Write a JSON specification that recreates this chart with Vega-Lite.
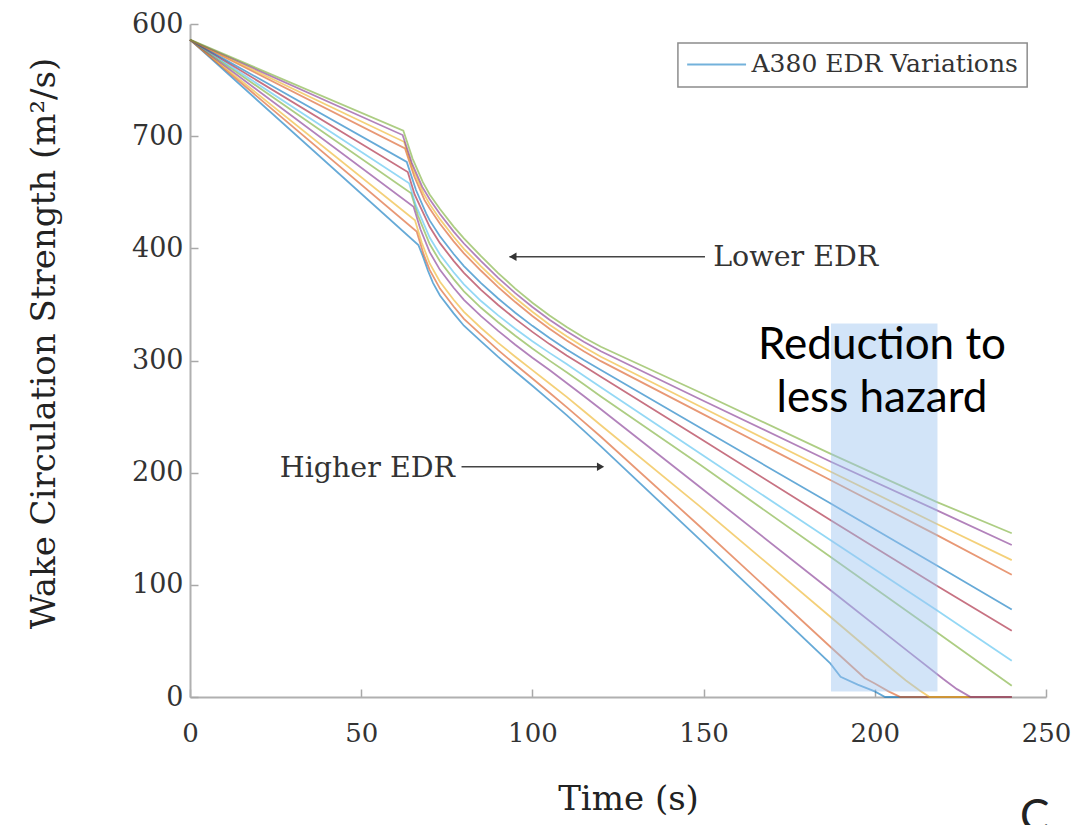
{
 "$schema": "https://vega.github.io/schema/vega-lite/v6.json",
 "width": 856, "height": 673,
 "autosize": {"type": "none"},
 "padding": {"left": 190, "top": 24, "right": 25, "bottom": 128},
 "background": "white",
 "config": {"view": {"stroke": null}},
 "datasets": {
  "curves": [
   {"r":1,"t":0,"v":586},{"r":1,"t":66.7,"v":403},{"r":1,"t":68,"v":393},{"r":1,"t":69.5,"v":380},{"r":1,"t":71,"v":369},{"r":1,"t":73,"v":358},{"r":1,"t":77,"v":342},{"r":1,"t":80,"v":331},{"r":1,"t":85,"v":317},{"r":1,"t":90,"v":303.2},{"r":1,"t":95,"v":290.2},{"r":1,"t":100,"v":277.5},{"r":1,"t":105,"v":264.5},{"r":1,"t":110,"v":251.3},{"r":1,"t":115,"v":237.5},{"r":1,"t":120,"v":223.5},{"r":1,"t":149,"v":140},{"r":1,"t":187,"v":30},{"r":1,"t":190,"v":18},{"r":1,"t":195,"v":11},{"r":1,"t":200,"v":5},{"r":1,"t":203,"v":0},{"r":1,"t":240,"v":0},
   {"r":2,"t":0,"v":586},{"r":2,"t":66.2,"v":415},{"r":2,"t":68.2,"v":395},{"r":2,"t":70,"v":380.8},{"r":2,"t":73,"v":364.1},{"r":2,"t":77,"v":348.1},{"r":2,"t":80,"v":337.1},{"r":2,"t":85,"v":323},{"r":2,"t":90,"v":309.3},{"r":2,"t":95,"v":296.4},{"r":2,"t":100,"v":283.9},{"r":2,"t":105,"v":271.2},{"r":2,"t":110,"v":258.4},{"r":2,"t":115,"v":245.3},{"r":2,"t":120,"v":232},{"r":2,"t":149,"v":151.8},{"r":2,"t":187,"v":44.8},{"r":2,"t":197,"v":17},{"r":2,"t":200,"v":12},{"r":2,"t":204,"v":5},{"r":2,"t":207.5,"v":0},{"r":2,"t":240,"v":0},
   {"r":3,"t":0,"v":586},{"r":3,"t":65.7,"v":425},{"r":3,"t":67.7,"v":405},{"r":3,"t":70,"v":386.5},{"r":3,"t":73,"v":370.2},{"r":3,"t":77,"v":354.2},{"r":3,"t":80,"v":343.3},{"r":3,"t":85,"v":329},{"r":3,"t":90,"v":315.7},{"r":3,"t":95,"v":303.4},{"r":3,"t":100,"v":291.4},{"r":3,"t":105,"v":279.5},{"r":3,"t":110,"v":267.6},{"r":3,"t":115,"v":255},{"r":3,"t":120,"v":242.3},{"r":3,"t":149,"v":169.7},{"r":3,"t":187,"v":71.6},{"r":3,"t":205,"v":25},{"r":3,"t":209,"v":15},{"r":3,"t":213,"v":6},{"r":3,"t":216,"v":0},{"r":3,"t":240,"v":0},
   {"r":4,"t":0,"v":586},{"r":4,"t":65.3,"v":437},{"r":4,"t":67.3,"v":417},{"r":4,"t":70,"v":396.6},{"r":4,"t":73,"v":380.8},{"r":4,"t":77,"v":364.9},{"r":4,"t":80,"v":354},{"r":4,"t":85,"v":339.5},{"r":4,"t":90,"v":326.4},{"r":4,"t":95,"v":314.1},{"r":4,"t":100,"v":302.5},{"r":4,"t":105,"v":291.5},{"r":4,"t":110,"v":280},{"r":4,"t":115,"v":268.3},{"r":4,"t":120,"v":256.5},{"r":4,"t":149,"v":187},{"r":4,"t":187,"v":95.4},{"r":4,"t":210,"v":40},{"r":4,"t":220,"v":16},{"r":4,"t":224,"v":7},{"r":4,"t":228,"v":0},{"r":4,"t":240,"v":0},
   {"r":5,"t":0,"v":586},{"r":5,"t":64.6,"v":449},{"r":5,"t":66.6,"v":429},{"r":5,"t":70,"v":403.8},{"r":5,"t":73,"v":388.5},{"r":5,"t":77,"v":372.6},{"r":5,"t":80,"v":361.7},{"r":5,"t":85,"v":347},{"r":5,"t":90,"v":334.1},{"r":5,"t":95,"v":322.1},{"r":5,"t":100,"v":310.7},{"r":5,"t":105,"v":299.9},{"r":5,"t":110,"v":289.5},{"r":5,"t":115,"v":278.8},{"r":5,"t":120,"v":268},{"r":5,"t":149,"v":207},{"r":5,"t":187,"v":125},{"r":5,"t":218,"v":58},{"r":5,"t":240,"v":10},
   {"r":6,"t":0,"v":586},{"r":6,"t":64,"v":458},{"r":6,"t":66,"v":438},{"r":6,"t":70,"v":409.6},{"r":6,"t":73,"v":394.5},{"r":6,"t":77,"v":378.7},{"r":6,"t":80,"v":367.9},{"r":6,"t":85,"v":353},{"r":6,"t":90,"v":340.2},{"r":6,"t":95,"v":328.3},{"r":6,"t":100,"v":317.2},{"r":6,"t":105,"v":306.8},{"r":6,"t":110,"v":296.8},{"r":6,"t":115,"v":286.5},{"r":6,"t":120,"v":276.2},{"r":6,"t":149,"v":217},{"r":6,"t":187,"v":140},{"r":6,"t":218,"v":77.5},{"r":6,"t":240,"v":32.4},
   {"r":7,"t":0,"v":586},{"r":7,"t":63.6,"v":468},{"r":7,"t":65.6,"v":448},{"r":7,"t":70,"v":419.2},{"r":7,"t":73,"v":404.6},{"r":7,"t":77,"v":388.8},{"r":7,"t":80,"v":378.1},{"r":7,"t":85,"v":363},{"r":7,"t":90,"v":349.5},{"r":7,"t":95,"v":337.1},{"r":7,"t":100,"v":325.5},{"r":7,"t":105,"v":314.6},{"r":7,"t":110,"v":304.5},{"r":7,"t":115,"v":295},{"r":7,"t":120,"v":285.6},{"r":7,"t":149,"v":230.5},{"r":7,"t":187,"v":157.8},{"r":7,"t":218,"v":99.5},{"r":7,"t":240,"v":59},
   {"r":8,"t":0,"v":586},{"r":8,"t":63.3,"v":477},{"r":8,"t":66,"v":452},{"r":8,"t":69,"v":431},{"r":8,"t":70,"v":424.9},{"r":8,"t":73,"v":410.7},{"r":8,"t":77,"v":394.9},{"r":8,"t":80,"v":384.2},{"r":8,"t":85,"v":369},{"r":8,"t":90,"v":355.3},{"r":8,"t":95,"v":342.6},{"r":8,"t":100,"v":330.9},{"r":8,"t":105,"v":320},{"r":8,"t":110,"v":309.9},{"r":8,"t":115,"v":300.5},{"r":8,"t":120,"v":291.6},{"r":8,"t":149,"v":240},{"r":8,"t":187,"v":172.7},{"r":8,"t":218,"v":117.5},{"r":8,"t":240,"v":78},
   {"r":9,"t":0,"v":586},{"r":9,"t":62.8,"v":489},{"r":9,"t":65.5,"v":464},{"r":9,"t":68.5,"v":443},{"r":9,"t":70,"v":435.5},{"r":9,"t":73,"v":421.9},{"r":9,"t":77,"v":406.2},{"r":9,"t":80,"v":395.5},{"r":9,"t":85,"v":380},{"r":9,"t":90,"v":365.4},{"r":9,"t":95,"v":352.1},{"r":9,"t":100,"v":339.7},{"r":9,"t":105,"v":328.3},{"r":9,"t":110,"v":317.9},{"r":9,"t":115,"v":308.2},{"r":9,"t":120,"v":299.4},{"r":9,"t":149,"v":253.5},{"r":9,"t":187,"v":193.5},{"r":9,"t":218,"v":144.5},{"r":9,"t":240,"v":109},
   {"r":10,"t":0,"v":586},{"r":10,"t":62.5,"v":495},{"r":10,"t":65.2,"v":470},{"r":10,"t":68.2,"v":449},{"r":10,"t":70,"v":439.4},{"r":10,"t":73,"v":426},{"r":10,"t":77,"v":410.3},{"r":10,"t":80,"v":399.6},{"r":10,"t":85,"v":384},{"r":10,"t":90,"v":369.3},{"r":10,"t":95,"v":355.7},{"r":10,"t":100,"v":343.4},{"r":10,"t":105,"v":331.9},{"r":10,"t":110,"v":321.6},{"r":10,"t":115,"v":312},{"r":10,"t":120,"v":303.3},{"r":10,"t":149,"v":259},{"r":10,"t":187,"v":201},{"r":10,"t":218,"v":154.5},{"r":10,"t":240,"v":122},
   {"r":11,"t":0,"v":586},{"r":11,"t":62.1,"v":501},{"r":11,"t":64.8,"v":476},{"r":11,"t":67.8,"v":455},{"r":11,"t":70,"v":443.8},{"r":11,"t":73,"v":430.6},{"r":11,"t":77,"v":414.9},{"r":11,"t":80,"v":404.3},{"r":11,"t":85,"v":388.6},{"r":11,"t":90,"v":373.7},{"r":11,"t":95,"v":360.1},{"r":11,"t":100,"v":347.7},{"r":11,"t":105,"v":336.3},{"r":11,"t":110,"v":326},{"r":11,"t":115,"v":316.7},{"r":11,"t":120,"v":308.3},{"r":11,"t":149,"v":265.5},{"r":11,"t":187,"v":210},{"r":11,"t":218,"v":166.6},{"r":11,"t":240,"v":135.5},
   {"r":12,"t":0,"v":586},{"r":12,"t":62.3,"v":505},{"r":12,"t":65,"v":480},{"r":12,"t":68,"v":459},{"r":12,"t":70,"v":448},{"r":12,"t":73,"v":435.1},{"r":12,"t":77,"v":419.4},{"r":12,"t":80,"v":408.8},{"r":12,"t":85,"v":393},{"r":12,"t":90,"v":377.9},{"r":12,"t":95,"v":364.1},{"r":12,"t":100,"v":351.5},{"r":12,"t":105,"v":340.1},{"r":12,"t":110,"v":329.8},{"r":12,"t":115,"v":320.5},{"r":12,"t":120,"v":312.2},{"r":12,"t":149,"v":271.5},{"r":12,"t":187,"v":217},{"r":12,"t":218,"v":174},{"r":12,"t":240,"v":146}
  ]
 },
 "layer": [
  {
   "data": {"name": "curves"},
   "mark": {"type": "line", "strokeWidth": 1.8, "opacity": 0.6},
   "encoding": {
    "x": {"field": "t", "type": "quantitative", "title": "Time (s)", "scale": {"domain": [0, 250], "nice": false},
     "axis": {"values": [0, 50, 100, 150, 200, 250], "grid": false,
      "labelFont": "DejaVu Serif", "labelFontSize": 26, "labelColor": "#333", "labelPadding": 31, "labelFlush": false, "labelOverlap": false,
      "tickSize": -8, "tickColor": "#a8a8a8", "tickWidth": 1.5, "domainColor": "#b0b0b0", "domainWidth": 2,
      "titleFont": "DejaVu Serif", "titleFontSize": 34, "titleFontWeight": "normal", "titleColor": "#222", "titlePadding": 36, "titleX": 438}},
    "y": {"field": "v", "type": "quantitative", "title": "Wake Circulation Strength (m²/s)", "scale": {"domain": [0, 600], "nice": false},
     "axis": {"values": [0, 100, 200, 300, 400, 500, 600], "grid": false,
      "labelExpr": "datum.value == 500 ? '700' : datum.label",
      "labelFont": "DejaVu Serif", "labelFontSize": 27, "labelColor": "#333", "labelPadding": 15, "labelFlush": false, "labelOverlap": false,
      "tickSize": -8, "tickColor": "#a8a8a8", "tickWidth": 1.5, "domainColor": "#b0b0b0", "domainWidth": 2,
      "titleFont": "DejaVu Serif", "titleFontSize": 34, "titleFontWeight": "normal", "titleColor": "#222", "titlePadding": 70, "titleY": 319}},
    "color": {"field": "r", "type": "nominal", "legend": null,
     "scale": {"domain": [1,2,3,4,5,6,7,8,9,10,11,12],
      "range": ["#0072BD","#D95319","#EDB120","#7E2F8E","#77AC30","#4DBEEE","#A2142F","#0072BD","#D95319","#EDB120","#7E2F8E","#77AC30"]}},
    "order": {"field": "t", "type": "quantitative"}
   }
  },
  {
   "data": {"values": [{"t1": 187.2, "t2": 218.3, "v1": 5, "v2": 333}]},
   "mark": {"type": "rect", "color": "#9bc3ef", "opacity": 0.45},
   "encoding": {
    "x": {"field": "t1", "type": "quantitative", "title": "Time (s)"}, "x2": {"field": "t2"},
    "y": {"field": "v1", "type": "quantitative", "title": "Wake Circulation Strength (m²/s)"}, "y2": {"field": "v2"}
   }
  },
  {
   "data": {"values": [{"t1": 142.5, "t2": 244.5, "v1": 543.8, "v2": 583}]},
   "mark": {"type": "rect", "fill": "white", "stroke": "#8c8c8c", "strokeWidth": 1.5},
   "encoding": {
    "x": {"field": "t1", "type": "quantitative", "title": "Time (s)"}, "x2": {"field": "t2"},
    "y": {"field": "v1", "type": "quantitative", "title": "Wake Circulation Strength (m²/s)"}, "y2": {"field": "v2"}
   }
  },
  {
   "data": {"values": [{"t1": 145.2, "t2": 162.4, "v": 564}]},
   "mark": {"type": "rule", "color": "#0072BD", "opacity": 0.55, "strokeWidth": 2},
   "encoding": {
    "x": {"field": "t1", "type": "quantitative", "title": "Time (s)"}, "x2": {"field": "t2"},
    "y": {"field": "v", "type": "quantitative", "title": "Wake Circulation Strength (m²/s)"}
   }
  },
  {
   "data": {"values": [{"label": "A380 EDR Variations", "t": 164, "v": 564}]},
   "mark": {"type": "text", "font": "DejaVu Serif", "fontSize": 25, "color": "#333", "align": "left", "baseline": "middle"},
   "encoding": {
    "x": {"field": "t", "type": "quantitative", "title": "Time (s)"},
    "y": {"field": "v", "type": "quantitative", "title": "Wake Circulation Strength (m²/s)"},
    "text": {"field": "label"}
   }
  },
  {
   "data": {"values": [{"t1": 93.3, "t2": 150.4, "v": 392.5}, {"t1": 79.3, "t2": 120.3, "v": 205.3}]},
   "mark": {"type": "rule", "color": "#444", "strokeWidth": 1.6},
   "encoding": {
    "x": {"field": "t1", "type": "quantitative", "title": "Time (s)"}, "x2": {"field": "t2"},
    "y": {"field": "v", "type": "quantitative", "title": "Wake Circulation Strength (m²/s)"}
   }
  },
  {
   "data": {"values": [{"t": 94.3, "v": 392.5}]},
   "mark": {"type": "point", "shape": "triangle-left", "filled": true, "size": 70, "color": "#333", "opacity": 1},
   "encoding": {
    "x": {"field": "t", "type": "quantitative", "title": "Time (s)"},
    "y": {"field": "v", "type": "quantitative", "title": "Wake Circulation Strength (m²/s)"}
   }
  },
  {
   "data": {"values": [{"t": 119.9, "v": 205.3}]},
   "mark": {"type": "point", "shape": "triangle-right", "filled": true, "size": 70, "color": "#333", "opacity": 1},
   "encoding": {
    "x": {"field": "t", "type": "quantitative", "title": "Time (s)"},
    "y": {"field": "v", "type": "quantitative", "title": "Wake Circulation Strength (m²/s)"}
   }
  },
  {
   "data": {"values": [{"label": "Lower EDR", "t": 152.8, "v": 392.5}]},
   "mark": {"type": "text", "font": "DejaVu Serif", "fontSize": 28.5, "color": "#333", "align": "left", "baseline": "middle"},
   "encoding": {
    "x": {"field": "t", "type": "quantitative", "title": "Time (s)"},
    "y": {"field": "v", "type": "quantitative", "title": "Wake Circulation Strength (m²/s)"},
    "text": {"field": "label"}
   }
  },
  {
   "data": {"values": [{"label": "Higher EDR", "t": 77.4, "v": 204}]},
   "mark": {"type": "text", "font": "DejaVu Serif", "fontSize": 28.5, "color": "#333", "align": "right", "baseline": "middle"},
   "encoding": {
    "x": {"field": "t", "type": "quantitative", "title": "Time (s)"},
    "y": {"field": "v", "type": "quantitative", "title": "Wake Circulation Strength (m²/s)"},
    "text": {"field": "label"}
   }
  },
  {
   "data": {"values": [{"label": "Reduction to", "t": 202.1, "v": 301}, {"label": "less hazard", "t": 202.1, "v": 254}]},
   "mark": {"type": "text", "font": "Lato", "fontSize": 44, "color": "#000", "align": "center", "baseline": "alphabetic"},
   "encoding": {
    "x": {"field": "t", "type": "quantitative", "title": "Time (s)"},
    "y": {"field": "v", "type": "quantitative", "title": "Wake Circulation Strength (m²/s)"},
    "text": {"field": "label"}
   }
  },
  {
   "data": {"values": [{"label": "C", "t": 242.4, "v": -88}]},
   "mark": {"type": "text", "font": "Lato", "fontSize": 44, "color": "#222", "align": "left", "baseline": "top"},
   "encoding": {
    "x": {"field": "t", "type": "quantitative", "title": "Time (s)"},
    "y": {"field": "v", "type": "quantitative", "title": "Wake Circulation Strength (m²/s)"},
    "text": {"field": "label"}
   }
  }
 ]
}
